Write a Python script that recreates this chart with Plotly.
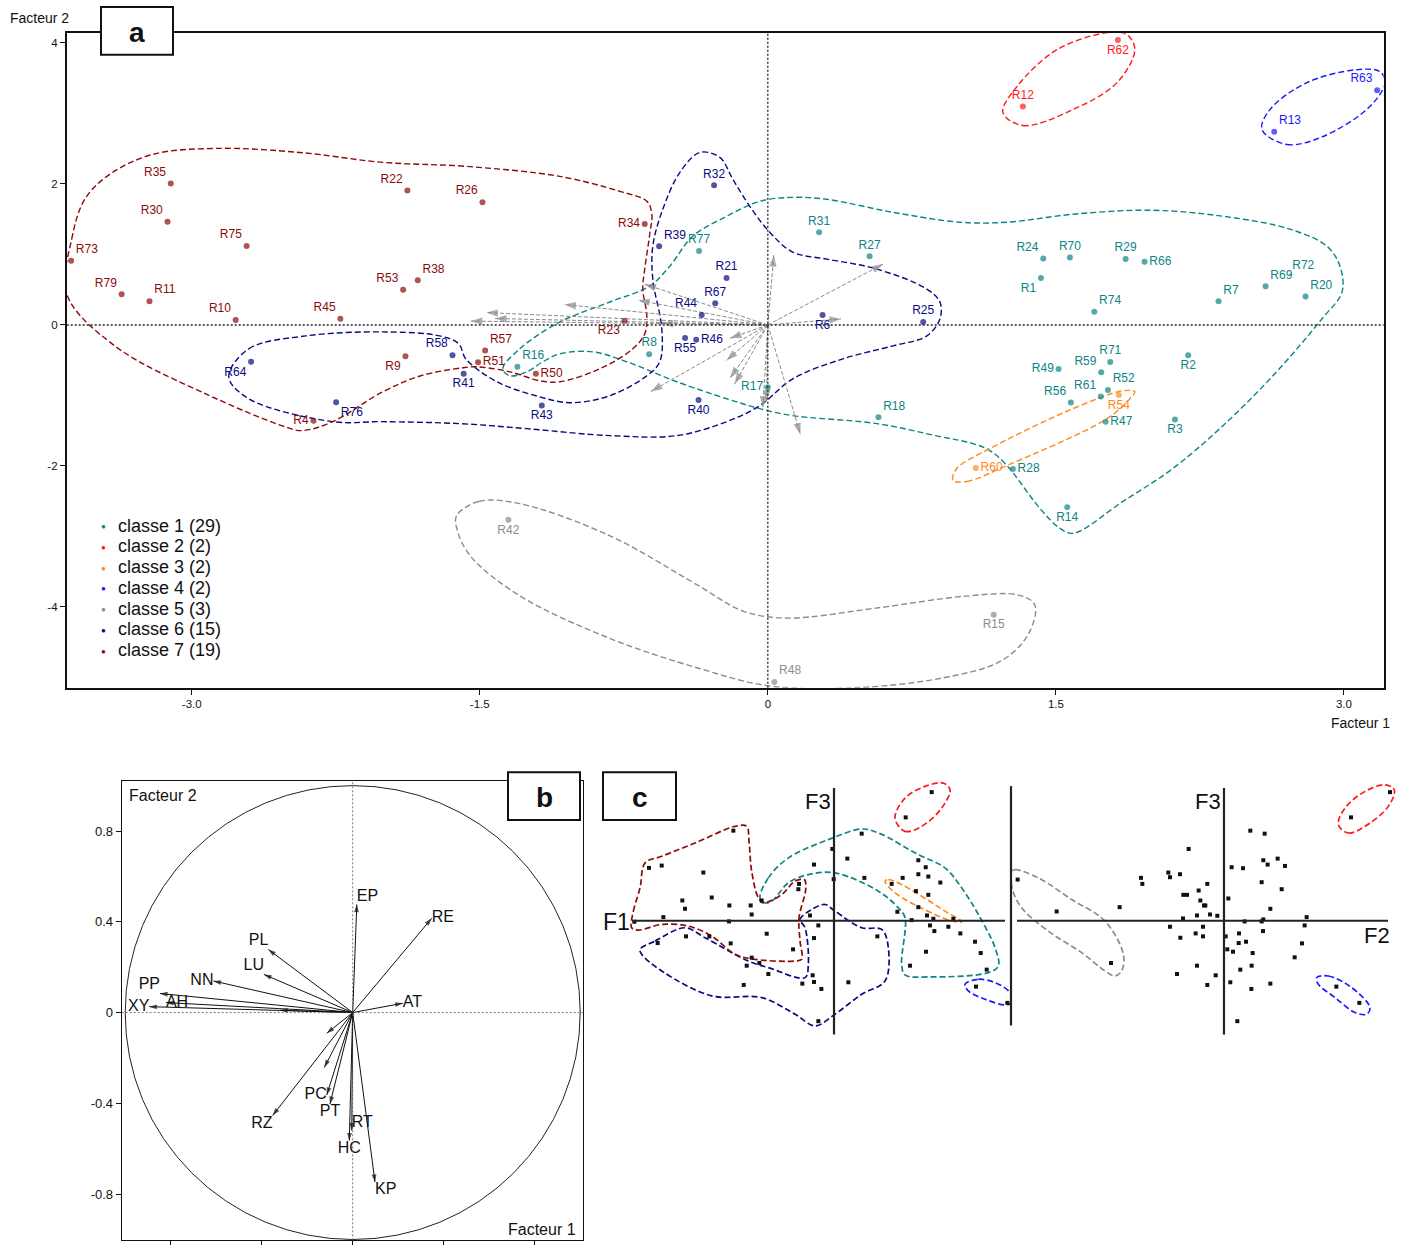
import plotly.graph_objects as go

W, H = 1409, 1245
FONT = "Liberation Sans, DejaVu Sans, sans-serif"

# ---------------- classes ----------------
class_labels = ["classe 1", "classe 2", "classe 3", "classe 4", "classe 5", "classe 6", "classe 7"]
class_counts = [29, 2, 2, 2, 3, 15, 19]
class_colors = ["#0e8484", "#ff1a1a", "#ff8a1a", "#1a1aff", "#8c8c8c", "#0a0a80", "#8b0a0a"]

# ---------------- panel a : individuals on factors 1 x 2 ----------------
names_c1 = ["R1", "R2", "R3", "R7", "R8", "R14", "R16", "R17", "R18", "R20", "R24", "R27", "R28", "R29",
            "R31", "R47", "R49", "R52", "R56", "R59", "R61", "R66", "R69", "R70", "R71", "R72", "R74", "R77"]
f1_c1 = [1.422, 2.189, 2.120, 2.347, -0.618, 1.559, -1.304, 0.000, 0.576, 2.800, 1.434, 0.530, 1.276, 1.863,
         0.267, 1.759, 1.514, 1.771, 1.578, 1.736, 1.734, 1.962, 2.592, 1.573, 1.783, 2.719, 1.700, -0.358]
f2_c1 = [0.664, -0.429, -1.342, 0.335, -0.415, -2.585, -0.594, -0.885, -1.310, 0.405, 0.942, 0.974, -2.044, 0.937,
         1.314, -1.375, -0.626, -0.922, -1.102, -0.673, -1.017, 0.895, 0.547, 0.956, -0.527, 0.716, 0.188, 1.050]
pos_c1 = ["bottom left", "bottom center", "bottom center", "top right", "top center", "bottom center", "top right",
          "middle left", "top right", "top right", "top left", "top center", "middle right", "top center",
          "top center", "middle right", "middle left", "top right", "top left", "top left", "top left",
          "middle right", "top right", "top center", "top center", "top right", "top right", "top center"]

names_c2 = ["R12", "R62"]
f1_c2 = [1.328, 1.823]
f2_c2 = [3.100, 4.043]
pos_c2 = ["top center", "bottom center"]

names_c3 = ["R54", "R60"]
f1_c3 = [1.828, 1.083]
f2_c3 = [-0.994, -2.030]
pos_c3 = ["bottom center", "middle right"]

names_c4 = ["R13", "R63"]
f1_c4 = [2.637, 3.173]
f2_c4 = [2.740, 3.330]
pos_c4 = ["top right", "top left"]

names_c5 = ["R15", "R42", "R48"]
f1_c5 = [1.176, -1.351, 0.034]
f2_c5 = [-4.110, -2.764, -5.066]
pos_c5 = ["bottom center", "bottom center", "top right"]

names_c6 = ["R6", "R21", "R25", "R32", "R39", "R40", "R41", "R43", "R44", "R46", "R55", "R58", "R64", "R67", "R76"]
f1_c6 = [0.285, -0.215, 0.809, -0.280, -0.566, -0.361, -1.584, -1.177, -0.344, -0.373, -0.431, -1.642, -2.691, -0.274, -2.248]
f2_c6 = [0.141, 0.664, 0.042, 1.980, 1.116, -1.064, -0.692, -1.144, 0.141, -0.212, -0.184, -0.430, -0.523, 0.306, -1.097]
pos_c6 = ["bottom center", "top center", "top center", "top center", "top right", "bottom center", "bottom center",
          "bottom center", "top left", "middle right", "bottom center", "top left", "bottom left", "top center",
          "bottom right"]

names_c7 = ["R4", "R9", "R10", "R11", "R22", "R23", "R26", "R30", "R34", "R35", "R38", "R45", "R50", "R51",
            "R53", "R57", "R73", "R75", "R79"]
f1_c7 = [-2.366, -1.887, -2.771, -3.220, -1.877, -0.746, -1.486, -3.126, -0.641, -3.109, -1.823, -2.226, -1.208,
         -1.509, -1.899, -1.472, -3.628, -2.714, -3.365]
f2_c7 = [-1.361, -0.443, 0.071, 0.336, 1.908, 0.060, 1.741, 1.463, 1.431, 2.007, 0.633, 0.089, -0.692, -0.528,
         0.500, -0.363, 0.911, 1.119, 0.435]
pos_c7 = ["middle left", "bottom left", "top left", "top right", "top left", "bottom left", "top left", "top left",
          "middle left", "top left", "top right", "top left", "middle right", "middle right", "top left",
          "top right", "top right", "top left", "top left"]

# class envelopes on factors 1 x 2
hull1_x = [-1.380, -1.292, -1.083, -0.823, -0.615, -0.510, -0.391, -0.214, -0.042, 0.130, 0.307, 0.651, 1.000,
           1.245, 1.589, 1.990, 2.370, 2.719, 2.911, 2.979, 2.990, 2.885, 2.630, 2.370, 2.109, 1.849, 1.589,
           1.521, 1.417, 1.245, 1.156, 1.068, 0.896, 0.568, 0.130, -0.042, -0.214, -0.474, -0.734, -0.911,
           -1.083, -1.172, -1.255, -1.344]
hull1_y = [-0.622, -0.339, 0.042, 0.325, 0.552, 0.835, 1.259, 1.542, 1.754, 1.810, 1.782, 1.598, 1.457, 1.457,
           1.570, 1.627, 1.542, 1.358, 1.117, 0.835, 0.467, 0.085, -0.721, -1.429, -2.037, -2.504, -2.956,
           -2.885, -2.603, -1.994, -1.782, -1.683, -1.584, -1.400, -1.287, -1.188, -1.047, -0.806, -0.523,
           -0.382, -0.410, -0.523, -0.665, -0.721]
hull2_x = [1.224, 1.328, 1.589, 1.818, 1.911, 1.870, 1.766, 1.505, 1.297]
hull2_y = [3.013, 2.829, 3.055, 3.437, 3.904, 4.116, 4.144, 3.904, 3.380]
hull3_x = [0.964, 1.036, 1.245, 1.766, 1.885, 1.911, 1.849, 1.589, 1.156, 0.984]
hull3_y = [-2.206, -2.221, -1.994, -1.330, -1.047, -0.948, -0.934, -1.188, -1.754, -2.037]
hull4_x = [2.573, 2.703, 2.891, 3.135, 3.214, 3.188, 3.068, 2.807, 2.615]
hull4_y = [2.772, 2.560, 2.673, 3.098, 3.437, 3.593, 3.621, 3.437, 3.055]
hull5_x = [-1.620, -1.505, -1.297, -0.828, -0.365, -0.130, 0.099, 0.563, 1.031, 1.307, 1.391, 1.354, 1.214,
           0.911, 0.448, 0.005, -0.365, -0.828, -1.297, -1.552, -1.620]
hull5_y = [-2.702, -2.504, -2.532, -2.984, -3.692, -4.059, -4.158, -4.017, -3.847, -3.833, -3.975, -4.399,
           -4.767, -5.007, -5.148, -5.120, -4.866, -4.441, -3.833, -3.267, -2.885]
hull6_x = [-2.807, -2.703, -2.406, -2.005, -1.708, -1.609, -1.573, -1.411, -1.208, -1.031, -0.823, -0.630,
           -0.563, -0.552, -0.599, -0.599, -0.547, -0.458, -0.354, -0.250, -0.182, -0.094, 0.010, 0.130, 0.307,
           0.568, 0.828, 0.896, 0.896, 0.828, 0.651, 0.391, 0.130, -0.042, -0.214, -0.474, -0.823, -1.255,
           -1.604, -2.005, -2.266, -2.703]
hull6_y = [-0.735, -0.339, -0.156, -0.099, -0.156, -0.269, -0.481, -0.806, -1.004, -1.103, -1.004, -0.721,
           -0.523, -0.057, 0.651, 1.117, 1.641, 2.164, 2.447, 2.376, 2.065, 1.683, 1.315, 1.032, 0.934, 0.792,
           0.509, 0.325, 0.085, -0.156, -0.297, -0.481, -0.764, -1.146, -1.372, -1.570, -1.570, -1.471,
           -1.400, -1.372, -1.372, -1.047]
hull7_x = [-3.651, -3.625, -3.557, -3.427, -3.203, -2.870, -2.438, -2.005, -1.568, -1.083, -0.771, -0.630,
           -0.604, -0.615, -0.641, -0.651, -0.630, -0.641, -0.703, -0.875, -1.083, -1.188, -1.344, -1.516,
           -1.589, -1.807, -2.005, -2.266, -2.427, -2.516, -2.906, -3.401]
hull7_y = [0.438, 1.216, 1.782, 2.136, 2.419, 2.504, 2.447, 2.306, 2.249, 2.107, 1.895, 1.754, 1.570, 1.287,
           0.792, 0.509, 0.127, -0.127, -0.339, -0.622, -0.806, -0.792, -0.665, -0.594, -0.608, -0.721,
           -0.948, -1.372, -1.499, -1.443, -1.004, -0.297]

# ---------------- panel b : variables on the correlation circle ----------------
var_names = ["EP", "RE", "AT", "PL", "LU", "NN", "PP", "AH", "XY", "", "", "", "PC", "PT", "RZ", "RT", "HC", "KP"]
var_f1 = [0.018, 0.347, 0.220, -0.371, -0.390, -0.612, -0.847, -0.821, -0.894, -0.319, -0.114, -0.125,
          -0.114, -0.100, -0.352, -0.004, -0.015, 0.098]
var_f2 = [0.476, 0.415, 0.041, 0.278, 0.168, 0.139, 0.084, 0.044, 0.026, 0.010, -0.091, -0.242,
          -0.363, -0.403, -0.454, -0.520, -0.564, -0.747]
var_pos = ["top right", "middle right", "middle right", "top left", "top left", "middle left", "top left",
           "middle right", "middle left", "top center", "top center", "top center", "middle left",
           "bottom center", "bottom left", "top right", "bottom center", "bottom right"]
# scaling of the variable vectors when drawn on the individuals map
BIPLOT_SX, BIPLOT_SY = 1.73, 2.08

# ---------------- panel c : factor planes 1 x 3 and 2 x 3 ----------------
c13_f1 = [1.776, 1.303, -1.830, 0.503, -0.030, 0.242, 1.533, 1.667, -0.364, -3.364,
          -3.133, -2.376, 1.533, 1.715, 0.552, 1.248, -0.006, 1.933, 1.048, -0.636,
          -0.648, 1.491, 1.715, -2.224, -2.758, -1.315, -2.709, -1.903, -1.515, 1.533,
          1.152, -1.497, -0.436, 1.691, -3.103, 1.412, 1.806, -1.909, -3.630, 2.170,
          -0.285, 1.745, 2.079, 1.824, 2.297, -1.224, -2.691, -2.267, -0.364, 0.788,
          -3.206, -1.879, 2.564, -0.745, 1.673, 2.667, -1.497, -1.358, -1.588, 1.382,
          2.776, -1.194, -0.388, -0.576, -0.364, 0.261, -1.642, 2.582, -0.230, 3.152,
          -0.285]
c13_f3 = [3.146, 2.528, 2.203, 2.130, 1.756, 1.520, 1.480, 1.309, 1.374, 1.293,
          1.350, 1.179, 1.138, 1.081, 1.049, 1.049, 1.016, 0.935, 0.902, 0.902,
          0.772, 0.724, 0.634, 0.569, 0.496, 0.496, 0.293, 0.374, 0.374, 0.333,
          0.220, 0.154, 0.130, 0.130, 0.089, 0.016, 0.049, -0.016, -0.024, 0.049,
          -0.114, -0.114, -0.146, -0.252, -0.309, -0.317, -0.382, -0.382, -0.423, -0.382,
          -0.545, -0.553, -0.512, -0.699, -0.756, -0.789, -0.902, -1.033, -1.098, -1.098,
          -1.195, -1.301, -1.333, -1.537, -1.496, -1.504, -1.569, -1.610, -1.667, -2.008,
          -2.455]
c23_f2 = [4.049, 3.098, 0.642, 0.992, -0.862, 1.309, 0.959, 1.065, 1.488, 0.187,
          0.463, -1.073, -1.358, -1.317, -2.024, -1.992, -0.407, 0.919, -5.033, 1.407,
          -0.618, -0.992, -0.902, 0.106, -0.577, -0.488, -0.455, -4.081, -2.545, 1.130,
          -0.659, -0.341, -0.163, -1.000, 2.016, 0.504, 0.919, 0.959, -1.317, -0.512,
          1.967, -0.691, -0.512, -1.065, 0.366, 0.041, 0.951, 0.358, 0.537, 1.902,
          0.081, 0.220, 0.699, 1.724, -0.659, 0.675, -2.756, -1.146, -0.203, 0.398,
          0.154, 1.130, -0.407, 0.667, 2.740, 3.301, 0.325]
c23_f3 = [3.146, 2.528, 2.203, 2.130, 1.756, 1.520, 1.480, 1.374, 1.341, 1.309,
          1.285, 1.138, 1.179, 1.065, 1.049, 0.902, 0.902, 0.943, 1.008, 0.772,
          0.740, 0.634, 0.634, 0.545, 0.496, 0.374, 0.374, 0.228, 0.333, 0.293,
          0.130, 0.154, 0.122, 0.057, 0.089, -0.016, -0.016, 0.033, -0.146, -0.146,
          -0.114, -0.309, -0.382, -0.415, -0.309, -0.382, -0.252, -0.545, -0.512, -0.553,
          -0.699, -0.756, -0.789, -0.894, -1.098, -1.098, -1.033, -1.301, -1.333, -1.195,
          -1.504, -1.537, -1.569, -1.667, -1.610, -2.008, -2.455]

# class envelopes on plane 1 x 3
c13_hull1_x = [-1.345, -1.194, -0.830, -0.103, 0.503, 0.806, 1.533, 2.018, 2.321, 2.624, 2.927, 2.988, 2.806,
               1.715, 1.291, 1.230, 1.291, 1.170, 0.806, 0.018, -0.467, -0.830, -1.133, -1.255]
c13_hull1_y = [0.561, 1.049, 1.537, 1.984, 2.244, 2.146, 1.618, 1.293, 0.805, 0.154, -0.659, -1.106, -1.268,
               -1.374, -1.325, -1.065, 0.073, 0.317, 0.724, 1.171, 1.130, 0.927, 0.480, 0.439]
c13_hull2_x = [1.109, 1.291, 1.594, 1.958, 2.109, 1.988, 1.655, 1.291]
c13_hull2_y = [2.512, 2.187, 2.309, 2.756, 3.203, 3.366, 3.285, 3.000]
c13_hull3_x = [0.927, 0.988, 1.230, 2.018, 2.321, 2.200, 1.836, 1.109]
c13_hull3_y = [0.967, 1.008, 0.886, 0.236, -0.024, -0.024, 0.154, 0.683]
c13_hull4_x = [2.382, 2.624, 2.927, 3.200, 3.230, 3.109, 2.745, 2.442]
c13_hull4_y = [-1.553, -1.431, -1.512, -1.756, -2.000, -2.057, -1.919, -1.715]
c13_hull6_x = [-3.527, -3.255, -2.709, -2.345, -1.558, -1.194, -0.527, -0.467, -0.527, -0.618, -0.406, -0.164,
               0.018, 0.503, 0.867, 0.988, 0.927, 0.503, 0.018, -0.345, -0.709, -1.315, -2.224, -3.133, -3.497]
c13_hull6_y = [-0.699, -0.496, -0.171, -0.415, -0.984, -1.146, -1.390, -1.065, -0.171, 0.033, 0.276, 0.398,
               0.236, -0.171, -0.211, -0.659, -1.472, -1.797, -2.285, -2.569, -2.285, -1.878, -1.837, -1.228,
               -0.821]
c13_hull7_x = [-3.679, -3.648, -3.527, -3.436, -3.133, -2.527, -1.800, -1.588, -1.545, -1.497, -1.376, -1.285,
               -0.952, -0.709, -0.539, -0.515, -0.636, -0.618, -0.588, -0.709, -1.436, -1.800, -2.224, -2.648,
               -3.133, -3.558]
c13_hull7_y = [-0.171, 0.236, 0.805, 1.415, 1.577, 1.902, 2.309, 2.309, 1.943, 1.211, 0.561, 0.439, 0.642,
               0.967, 1.008, 0.764, 0.073, -0.496, -0.943, -0.984, -0.943, -0.821, -0.374, -0.130, -0.089,
               -0.228]
# class envelopes on plane 2 x 3
c23_hull2_x = [2.789, 3.033, 3.439, 4.008, 4.154, 3.927, 3.439, 2.951]
c23_hull2_y = [2.350, 2.146, 2.309, 2.797, 3.203, 3.325, 3.163, 2.756]
c23_hull4_x = [2.260, 2.545, 3.114, 3.561, 3.480, 3.195, 2.707, 2.301]
c23_hull4_y = [-1.390, -1.350, -1.634, -2.122, -2.285, -2.244, -1.878, -1.553]
c23_hull5_x = [-5.170, -5.098, -4.528, -3.715, -2.902, -2.455, -2.496, -2.659, -2.902, -3.472, -4.285, -4.935,
               -5.170]
c23_hull5_y = [1.211, 1.252, 1.049, 0.520, -0.008, -0.821, -1.228, -1.350, -1.228, -0.780, -0.252, 0.317,
               0.805]


# ---------------- helpers ----------------
def px_x(p):
    return p / W


def px_y(p):
    return 1 - p / H


def closed(xs, ys):
    return list(xs) + [xs[0]], list(ys) + [ys[0]]


def envelope(xs, ys, color, xa, ya, width=1.4):
    cx, cy = closed(xs, ys)
    return go.Scatter(x=cx, y=cy, mode="lines", xaxis=xa, yaxis=ya, hoverinfo="skip",
                      line=dict(color=color, width=width, dash="6px,3px", shape="spline", smoothing=1.0))


fig = go.Figure()

# ---- panel a ----
hulls_a = [(hull1_x, hull1_y), (hull2_x, hull2_y), (hull3_x, hull3_y), (hull4_x, hull4_y),
           (hull5_x, hull5_y), (hull6_x, hull6_y), (hull7_x, hull7_y)]
for (hx, hy), col in zip(hulls_a, class_colors):
    fig.add_trace(envelope(hx, hy, col, "x", "y"))

# variable vectors projected onto the individuals map
vx = [v * BIPLOT_SX for v in var_f1]
vy = [v * BIPLOT_SY for v in var_f2]
lx, ly, ax_, ay_, asz = [], [], [], [], []
for a, b in zip(vx, vy):
    lx += [0, a, None]
    ly += [0, b, None]
    ax_ += [0, a]
    ay_ += [0, b]
    asz += [0, 12]
fig.add_trace(go.Scatter(x=lx, y=ly, mode="lines", xaxis="x", yaxis="y", hoverinfo="skip",
                         line=dict(color="#8a8a8a", width=1, dash="4px,2px")))
fig.add_trace(go.Scatter(x=ax_, y=ay_, mode="markers", xaxis="x", yaxis="y", hoverinfo="skip",
                         marker=dict(symbol="arrow", size=asz, angleref="previous", color="#8a8a8a",
                                     line=dict(width=0))))

classes_a = [(names_c1, f1_c1, f2_c1, pos_c1), (names_c2, f1_c2, f2_c2, pos_c2),
             (names_c3, f1_c3, f2_c3, pos_c3), (names_c4, f1_c4, f2_c4, pos_c4),
             (names_c5, f1_c5, f2_c5, pos_c5), (names_c6, f1_c6, f2_c6, pos_c6),
             (names_c7, f1_c7, f2_c7, pos_c7)]
for (nm, x, y, pos), col in zip(classes_a, class_colors):
    sizes = [2 if n == "R72" else 6 for n in nm]
    fig.add_trace(go.Scatter(x=x, y=y, text=nm, mode="markers+text", textposition=pos,
                             xaxis="x", yaxis="y", cliponaxis=False,
                             marker=dict(size=sizes, color=col, line=dict(width=0)),
                             textfont=dict(family=FONT, size=12, color=col)))

# ---- panel b ----
bx, by, hx_, hy_, hs = [], [], [], [], []
for a, b in zip(var_f1, var_f2):
    bx += [0, a, None]
    by += [0, b, None]
    hx_ += [0, a]
    hy_ += [0, b]
    hs += [0, 8]
fig.add_trace(go.Scatter(x=bx, y=by, mode="lines", xaxis="x2", yaxis="y2", hoverinfo="skip",
                         line=dict(color="#111111", width=1)))
fig.add_trace(go.Scatter(x=hx_, y=hy_, mode="markers", xaxis="x2", yaxis="y2", hoverinfo="skip",
                         marker=dict(symbol="arrow", size=hs, angleref="previous", color="#111111",
                                     line=dict(width=0))))
fig.add_trace(go.Scatter(x=var_f1, y=var_f2, text=var_names, mode="text", textposition=var_pos,
                         xaxis="x2", yaxis="y2", cliponaxis=False,
                         textfont=dict(family=FONT, size=16, color="#111111")))

# ---- panel c ----
c13_hulls = [(c13_hull1_x, c13_hull1_y, 0), (c13_hull2_x, c13_hull2_y, 1), (c13_hull3_x, c13_hull3_y, 2),
             (c13_hull4_x, c13_hull4_y, 3), (c13_hull6_x, c13_hull6_y, 5), (c13_hull7_x, c13_hull7_y, 6)]
for hx, hy, k in c13_hulls:
    fig.add_trace(envelope(hx, hy, class_colors[k], "x3", "y3", width=1.7))
c23_hulls = [(c23_hull2_x, c23_hull2_y, 1), (c23_hull4_x, c23_hull4_y, 3), (c23_hull5_x, c23_hull5_y, 4)]
for hx, hy, k in c23_hulls:
    fig.add_trace(envelope(hx, hy, class_colors[k], "x4", "y4", width=1.7))
fig.add_trace(go.Scatter(x=c13_f1, y=c13_f3, mode="markers", xaxis="x3", yaxis="y3", cliponaxis=False,
                         marker=dict(symbol="square", size=4, color="#111111", line=dict(width=0))))
fig.add_trace(go.Scatter(x=c23_f2, y=c23_f3, mode="markers", xaxis="x4", yaxis="y4", cliponaxis=False,
                         marker=dict(symbol="square", size=4, color="#111111", line=dict(width=0))))

# ---------------- axes ----------------
axis_common = dict(showgrid=False, zeroline=False, showline=True, mirror=True, linecolor="#111111",
                   ticks="outside", tickcolor="#111111", ticklen=5, tickwidth=1.2,
                   tickfont=dict(family=FONT, size=11.5, color="#111111"))
hidden = dict(visible=False, showgrid=False, zeroline=False)

fig.update_layout(
    width=W, height=H, margin=dict(l=0, r=0, t=0, b=0),
    paper_bgcolor="white", plot_bgcolor="white", showlegend=False,
    xaxis=dict(domain=[px_x(66.7), px_x(1383.7)], range=[-3.651, 3.207], anchor="y", linewidth=1.6,
               tickvals=[-3, -1.5, 0, 1.5, 3], ticktext=["-3.0", "-1.5", "0", "1.5", "3.0"], **axis_common),
    yaxis=dict(domain=[px_y(689.5), px_y(33.3)], range=[-5.148, 4.138], anchor="x", linewidth=1.6,
               tickvals=[-4, -2, 0, 2, 4], ticktext=["-4", "-2", "0", "2", "4"], **axis_common),
    xaxis2=dict(domain=[px_x(121.7), px_x(583.3)], range=[-1.0154, 1.0136], anchor="y2", linewidth=1,
                tickvals=[-0.8, -0.4, 0, 0.4, 0.8], showticklabels=False, **axis_common),
    yaxis2=dict(domain=[px_y(1243.3), px_y(783.3)], range=[-1.0035, 1.0185], anchor="x2", linewidth=1,
                tickvals=[-0.8, -0.4, 0, 0.4, 0.8], ticktext=["-0.8", "-0.4", "0", "0.4", "0.8"],
                **{**axis_common, "tickfont": dict(family=FONT, size=13, color="#111111")}),
    xaxis3=dict(domain=[px_x(605), px_x(1011)], range=[-4.164, 3.218], anchor="y3", **hidden),
    yaxis3=dict(domain=[px_y(1045), px_y(780)], range=[-2.976, 3.488], anchor="x3", **hidden),
    xaxis4=dict(domain=[px_x(1011), px_x(1405)], range=[-5.195, 4.415], anchor="y4", **hidden),
    yaxis4=dict(domain=[px_y(1045), px_y(780)], range=[-2.976, 3.488], anchor="x4", **hidden),
)

shapes = []
# dotted origin lines of panel a
shapes.append(dict(type="line", xref="x domain", yref="y", x0=0, x1=1, y0=0, y1=0,
                   line=dict(color="#222222", width=1.5, dash="2px,2px")))
shapes.append(dict(type="line", xref="x", yref="y domain", x0=0, x1=0, y0=0, y1=1,
                   line=dict(color="#222222", width=1.3, dash="2px,2px")))
# correlation circle and its dotted axes
shapes.append(dict(type="circle", xref="x2", yref="y2", x0=-1, y0=-1, x1=1, y1=1,
                   line=dict(color="#222222", width=1)))
shapes.append(dict(type="line", xref="x2 domain", yref="y2", x0=0, x1=1, y0=0, y1=0,
                   line=dict(color="#555555", width=0.8, dash="2px,2px")))
shapes.append(dict(type="line", xref="x2", yref="y2 domain", x0=0, x1=0, y0=0, y1=1,
                   line=dict(color="#555555", width=0.8, dash="2px,2px")))
# axes of the factor planes 1x3 and 2x3
caxis = dict(color="#222222", width=2.2)
shapes.append(dict(type="line", xref="x3", yref="y3", x0=-3.673, x1=3.109, y0=0, y1=0, line=caxis))
shapes.append(dict(type="line", xref="x3", yref="y3", x0=0, x1=0, y0=-2.78, y1=3.244, line=caxis))
shapes.append(dict(type="line", xref="x4", yref="y4", x0=-5.049, x1=4.0, y0=0, y1=0, line=caxis))
shapes.append(dict(type="line", xref="x4", yref="y4", x0=0, x1=0, y0=-2.78, y1=3.244, line=caxis))
shapes.append(dict(type="line", xref="paper", yref="paper", x0=px_x(1011), x1=px_x(1011),
                   y0=px_y(1028), y1=px_y(788), line=caxis))
# panel letter boxes
for x0, x1, y0, y1 in [(101, 173, 7, 55), (508, 580, 774, 822), (603, 676, 774, 822)]:
    shapes.append(dict(type="rect", xref="paper", yref="paper", x0=px_x(x0), x1=px_x(x1),
                       y0=px_y(y1), y1=px_y(y0), fillcolor="white", layer="above",
                       line=dict(color="#111111", width=2)))
fig.update_layout(shapes=shapes)

ann = []


def text_at(x, y, s, size, xanchor="center", bold=False, color="#111111"):
    ann.append(dict(xref="paper", yref="paper", x=px_x(x), y=px_y(y), text=f"<b>{s}</b>" if bold else s,
                    showarrow=False, xanchor=xanchor, yanchor="middle",
                    font=dict(family=FONT, size=size, color=color)))


text_at(8, 18, "Facteur 2", 14, "left")
text_at(1392, 725, "Facteur 1", 14, "right")
text_at(137, 33, "a", 28, bold=True)
text_at(544, 799, "b", 28, bold=True)
text_at(640, 799, "c", 28, bold=True)
text_at(127, 797, "Facteur 2", 16, "left")
text_at(578, 1232, "Facteur 1", 16, "right")
text_at(616, 924, "F1", 23)
text_at(818, 803, "F3", 22)
text_at(1208, 803, "F3", 22)
text_at(1377, 938, "F2", 22)

# legend of panel a
for i, (lab, n, col) in enumerate(zip(class_labels, class_counts, class_colors)):
    yy = 527 + i * 20.8
    text_at(103, yy + 1, "●", 8, color=col)
    text_at(116, yy, f"{lab} ({n})", 18, "left")

fig.update_layout(annotations=ann)

fig.write_html("out.html")
